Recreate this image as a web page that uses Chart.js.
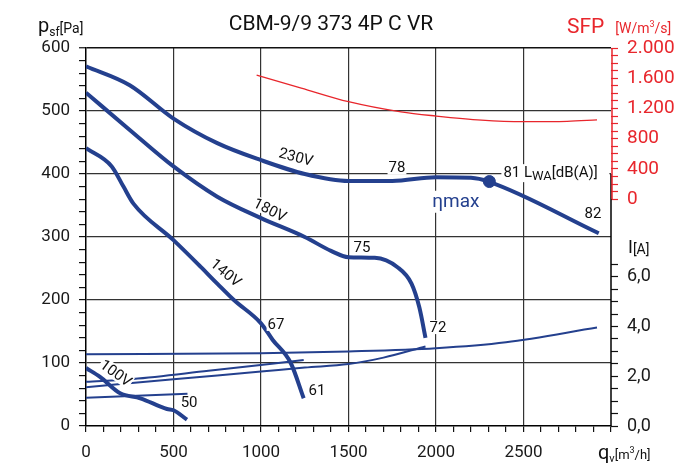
<!DOCTYPE html>
<html>
<head>
<meta charset="utf-8">
<script src="https://cdn.jsdelivr.net/npm/chart.js@4.4.0/dist/chart.umd.min.js"></script>
<style>
  html, body { margin: 0; padding: 0; background: #fff; }
  canvas { display: block; }
</style>
</head>
<body>
<canvas id="c" width="696" height="470"></canvas>
<script>
// pressure curves, q [m3/h] -> psf [Pa]
const q230 = [0, 250, 500, 750, 1000, 1250, 1500, 1750, 2000, 2200, 2300, 2930];
const p230 = [571, 541, 488, 449, 422, 400, 389, 389, 395, 394, 388, 306];
const q180 = [0, 250, 500, 750, 1000, 1250, 1400, 1500, 1650, 1780, 1860, 1905, 1940];
const p180 = [529, 470, 412, 364, 330, 300, 278, 268, 267, 252, 226, 188, 140];
const q140 = [0, 147, 214, 271, 500, 654, 750, 845, 1000, 1066, 1170, 1244];
const p140 = [441, 412, 380, 353, 295, 253, 226, 200, 163, 137, 100, 44];
const q100 = [0, 80, 195, 310, 463, 500, 577];
const p100 = [92, 78, 52, 44, 27, 25, 10];

// current curves, q [m3/h] -> I [A]
const qI230 = [0, 1000, 1500, 2000, 2400, 2920];
const vI230 = [2.89, 2.93, 3.0, 3.13, 3.37, 3.96];
const qI180 = [0, 500, 1000, 1250, 1500, 1700, 1940];
const vI180 = [1.56, 1.88, 2.19, 2.35, 2.49, 2.75, 3.2];
const qI140 = [0, 270, 700, 1244];
const vI140 = [1.78, 1.89, 2.22, 2.65];
const qI100 = [0, 580];
const vI100 = [1.14, 1.3];

// SFP curve, q [m3/h] -> SFP [W/m3/s]
const qSfp = [975, 1230, 1500, 1800, 2000, 2260, 2500, 2750, 2920];
const vSfp = [1640, 1470, 1290, 1155, 1100, 1045, 1025, 1030, 1048];

// best efficiency point
const qEta = [2305];
const pEta = [388];

// curve labels (anchor in q / psf units)
const labelText = ['230V', '180V', '140V', '100V', '78', '75', '72', '67', '61', '50', '82'];
const labelQ = [1200, 1051, 800, 171, 1777, 1577, 2011, 1086, 1320, 589, 2897];
const labelP = [427, 343, 243, 84, 410, 284, 157, 162, 56, 38, 337];
const labelAngle = [15, 27, 40, 36, 0, 0, 0, 0, 0, 0, 0];

const BLUE = '#24408e';
const RED = '#e8262c';
const FONT = 'Roboto, "DejaVu Sans", sans-serif';

function pts(xs, ys) {
    return xs.map((x, i) => ({ x: x, y: ys[i] }));
}

function range(a, b, step) {
    const out = [];
    for (let v = a; v <= b + 1e-9; v += step) out.push({ value: Math.round(v * 100) / 100 });
    return out;
}

function rich(ctx, x, y, parts) {
    let cx = x;
    parts.forEach(p => {
        ctx.font = p.f + ' ' + FONT;
        ctx.fillText(p.t, cx, y + (p.dy || 0));
        cx += ctx.measureText(p.t).width + (p.gap || 0);
    });
}

function curveLabel(ctx, text, px, py, angle) {
    ctx.save();
    ctx.translate(px, py);
    ctx.rotate(angle * Math.PI / 180);
    ctx.font = '15px ' + FONT;
    const w = ctx.measureText(text).width;
    ctx.fillStyle = '#fff';
    ctx.fillRect(-w / 2 - 1, -7, w + 2, 14);
    ctx.fillStyle = '#111';
    ctx.textAlign = 'center';
    ctx.textBaseline = 'middle';
    ctx.fillText(text, 0, 1);
    ctx.restore();
}

const decor = {
    id: 'decor',
    afterLayout(chart) {
        // both right axes share the same strip right of the plot
        ['ySfp', 'yI'].forEach(id => {
            const s = chart.scales[id];
            s.left = chart.chartArea.right;
            s.right = chart.width;
            s.width = s.right - s.left;
        });
    },
    beforeDatasetsDraw(chart) {
        const { ctx, chartArea: a, scales } = chart;
        ctx.save();
        ctx.lineWidth = 1.5;
        ctx.strokeStyle = '#000';
        ctx.beginPath();
        ctx.moveTo(a.right, scales.y.getPixelForValue(400));
        ctx.lineTo(a.right, a.bottom);
        ctx.stroke();
        ctx.strokeStyle = RED;
        ctx.beginPath();
        ctx.moveTo(a.right + 1, scales.ySfp.getPixelForValue(0));
        ctx.lineTo(a.right + 1, scales.ySfp.getPixelForValue(2000));
        ctx.stroke();
        ctx.restore();
    },
    afterDatasetsDraw(chart) {
        const { ctx, scales } = chart;
        const X = v => scales.x.getPixelForValue(v);
        const Y = v => scales.y.getPixelForValue(v);

        labelText.forEach((t, i) => curveLabel(ctx, t, X(labelQ[i]), Y(labelP[i]), labelAngle[i]));

        ctx.save();
        ctx.textBaseline = 'alphabetic';

        // L_WA label with white background over the grid line
        const lx = X(2385), ly = Y(395);
        ctx.fillStyle = '#fff';
        ctx.fillRect(lx - 2, ly - 13, 108, 18);
        ctx.fillStyle = '#111';
        rich(ctx, lx, ly, [
            { t: '81 L', f: '15px' },
            { t: 'WA', f: '13px', dy: 3 },
            { t: '[dB(A)]', f: '15px' }
        ]);

        // eta max
        const ex = X(1979), ey = Y(348);
        ctx.fillStyle = '#fff';
        ctx.fillRect(ex - 2, ey - 16, 55, 22);
        ctx.fillStyle = BLUE;
        rich(ctx, ex, ey, [{ t: '\u03b7max', f: '19px' }]);

        // title and axis titles
        ctx.fillStyle = '#111';
        ctx.textAlign = 'center';
        ctx.font = '21px ' + FONT;
        ctx.fillText('CBM-9/9 373 4P C VR', 331, 30);
        ctx.textAlign = 'left';

        rich(ctx, 38, 32, [
            { t: 'p', f: '20px' },
            { t: 'sf', f: '12px', dy: 4 },
            { t: '[Pa]', f: '14px', dy: 1 }
        ]);

        ctx.fillStyle = RED;
        rich(ctx, 567, 33, [
            { t: 'SFP', f: '21px', gap: 11 },
            { t: '[W/m', f: '14px' },
            { t: '3', f: '9px', dy: -6 },
            { t: '/s]', f: '14px' }
        ]);

        ctx.fillStyle = '#111';
        rich(ctx, 628, 253, [
            { t: 'I', f: '18px' },
            { t: '[A]', f: '14px', dy: 1 }
        ]);

        rich(ctx, 598, 459, [
            { t: 'q', f: '20px' },
            { t: 'v', f: '11px', dy: 3 },
            { t: '[m', f: '13px' },
            { t: '3', f: '9px', dy: -6 },
            { t: '/h]', f: '13px' }
        ]);
        ctx.restore();
    }
};

const majorGrid = (step, lo, hi) => ctx => {
    const v = ctx.tick ? ctx.tick.value : null;
    if (v === null) return 'rgba(0,0,0,0)';
    if (v % step !== 0 || v <= lo || v > hi) return 'rgba(0,0,0,0)';
    return '#333';
};

const pressureLine = (xs, ys) => ({
    data: pts(xs, ys),
    yAxisID: 'y',
    borderColor: BLUE,
    borderWidth: 4,
    pointRadius: 0,
    cubicInterpolationMode: 'monotone',
    borderCapStyle: 'butt'
});

const currentLine = (xs, ys) => ({
    data: pts(xs, ys),
    yAxisID: 'yI',
    borderColor: BLUE,
    borderWidth: 2,
    pointRadius: 0,
    cubicInterpolationMode: 'monotone'
});

new Chart(document.getElementById('c'), {
    type: 'line',
    data: {
        datasets: [
            pressureLine(q230, p230),
            pressureLine(q180, p180),
            pressureLine(q140, p140),
            pressureLine(q100, p100),
            currentLine(qI230, vI230),
            currentLine(qI180, vI180),
            currentLine(qI140, vI140),
            currentLine(qI100, vI100),
            {
                data: pts(qSfp, vSfp),
                yAxisID: 'ySfp',
                borderColor: RED,
                borderWidth: 1.3,
                pointRadius: 0,
                cubicInterpolationMode: 'monotone'
            },
            {
                data: pts(qEta, pEta),
                yAxisID: 'y',
                showLine: false,
                pointRadius: 6,
                pointBackgroundColor: BLUE,
                pointBorderColor: BLUE
            }
        ]
    },
    options: {
        responsive: false,
        animation: false,
        devicePixelRatio: 1,
        layout: { padding: { top: 48, left: 0, right: 0, bottom: 0 } },
        plugins: { legend: { display: false }, tooltip: { enabled: false } },
        scales: {
            x: {
                type: 'linear',
                min: 0,
                max: 3000,
                afterBuildTicks: s => { s.ticks = range(0, 3000, 100); },
                afterFit: s => { s.height = 44; },
                ticks: {
                    autoSkip: false,
                    maxRotation: 0,
                    padding: 11,
                    color: '#1a1a1a',
                    font: { family: FONT, size: 17 },
                    callback: v => (v % 500 === 0 && v < 3000) ? String(v) : ''
                },
                grid: {
                    color: majorGrid(500, 0, 2999),
                    lineWidth: 1.2,
                    tickColor: '#111',
                    tickLength: 6,
                    tickWidth: 1.2
                },
                border: { display: true, color: '#000', width: 1.5 }
            },
            y: {
                type: 'linear',
                position: 'left',
                min: 0,
                max: 600,
                afterBuildTicks: s => { s.ticks = range(0, 600, 20); },
                afterFit: s => { s.width = 86; },
                ticks: {
                    autoSkip: false,
                    padding: 9,
                    color: '#1a1a1a',
                    font: { family: FONT, size: 17 },
                    callback: v => (v % 100 === 0) ? String(v) : ''
                },
                grid: {
                    color: ctx => (ctx.tick && ctx.tick.value === 600) ? '#111' : majorGrid(100, 0, 500)(ctx),
                    lineWidth: ctx => (ctx.tick && ctx.tick.value === 600) ? 1.5 : 1.2,
                    tickColor: '#111',
                    tickLength: 7,
                    tickWidth: 1.2
                },
                border: { display: true, color: '#000', width: 1.5 }
            },
            ySfp: {
                type: 'linear',
                position: 'right',
                min: -3000,
                max: 2000,
                afterBuildTicks: s => { s.ticks = range(0, 2000, 100); },
                afterFit: s => { s.width = 0; },
                ticks: {
                    autoSkip: false,
                    padding: 9,
                    color: RED,
                    font: { family: FONT, size: 19 },
                    callback: v => {
                        if (v % 400 !== 0) return '';
                        return v >= 1000 ? Math.floor(v / 1000) + '.' + String(v % 1000).padStart(3, '0') : String(v);
                    }
                },
                grid: {
                    drawOnChartArea: false,
                    tickColor: RED,
                    tickLength: 7,
                    tickWidth: 1.2
                },
                border: { display: false }
            },
            yI: {
                type: 'linear',
                position: 'right',
                min: 0,
                max: 15.2,
                afterBuildTicks: s => { s.ticks = range(0, 6.5, 0.5); },
                afterFit: s => { s.width = 85; },
                ticks: {
                    autoSkip: false,
                    padding: 9,
                    color: '#1a1a1a',
                    font: { family: FONT, size: 18 },
                    callback: v => (Math.abs(v % 2) < 1e-6) ? v.toFixed(1).replace('.', ',') : ''
                },
                grid: {
                    drawOnChartArea: false,
                    tickColor: '#111',
                    tickLength: 7,
                    tickWidth: 1.2
                },
                border: { display: false }
            }
        }
    },
    plugins: [decor]
});
</script>
</body>
</html>
